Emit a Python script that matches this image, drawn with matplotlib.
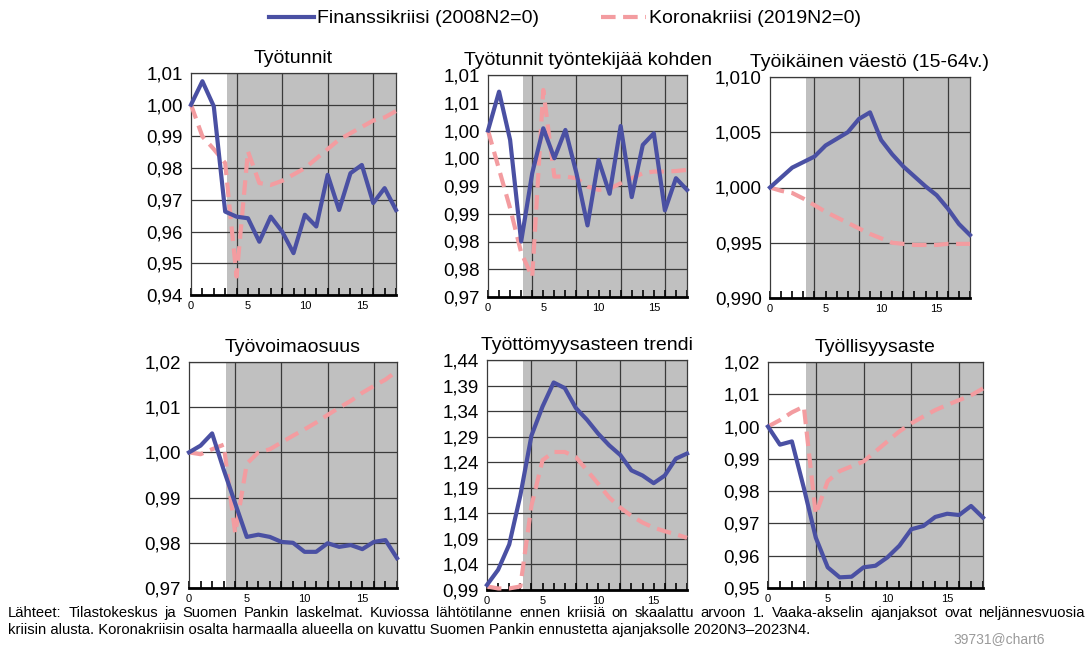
import numpy as np
import matplotlib
matplotlib.use("Agg")
import matplotlib.pyplot as plt
from decimal import Decimal, ROUND_HALF_UP

plt.rcParams['font.family'] = ['Liberation Sans', 'DejaVu Sans']

# data: neljännesvuodet kriisin alusta, 1 = lähtötilanne
x = np.arange(19)

titles = ["Työtunnit", "Työtunnit työntekijää kohden", "Työikäinen väestö (15-64v.)",
          "Työvoimaosuus", "Työttömyysasteen trendi", "Työllisyysaste"]

fin_tyotunnit = [1.000, 1.0074, 0.9995, 0.9663, 0.9647, 0.9642, 0.9568, 0.9647, 0.9600, 0.9532,
                 0.9653, 0.9616, 0.9779, 0.9668, 0.9784, 0.9810, 0.9690, 0.9737, 0.9668]
kor_tyotunnit = [1.000, 0.9900, 0.9860, 0.9816, 0.9458, 0.9853, 0.9753, 0.9747, 0.9760, 0.9780,
                 0.9800, 0.9830, 0.9860, 0.9890, 0.9910, 0.9930, 0.9950, 0.9960, 0.9980]

fin_per_tyontekija = [1.000, 1.0070, 0.9983, 0.9800, 0.9923, 1.0004, 0.9950, 1.0001, 0.9923, 0.9829,
                      0.9947, 0.9886, 1.0008, 0.9880, 0.9974, 0.9995, 0.9856, 0.9914, 0.9893]
kor_per_tyontekija = [1.000, 0.9930, 0.9860, 0.9780, 0.9736, 1.0073, 0.9917, 0.9917, 0.9914, 0.9899,
                      0.9893, 0.9895, 0.9905, 0.9914, 0.9923, 0.9926, 0.9926, 0.9927, 0.9929]

fin_vaesto = [1.000, 1.0009, 1.0018, 1.0023, 1.0028, 1.0038, 1.0044, 1.0050, 1.0062, 1.0068,
              1.0043, 1.0030, 1.0019, 1.0010, 1.0001, 0.9993, 0.9981, 0.9967, 0.9957]
kor_vaesto = [1.000, 0.9997, 0.9995, 0.9990, 0.9984, 0.9978, 0.9973, 0.9968, 0.9963, 0.9958,
              0.9954, 0.9950, 0.9949, 0.9948, 0.9948, 0.9948, 0.9949, 0.9949, 0.9949]

fin_tyovoima = [1.000, 1.0015, 1.0042, 0.9962, 0.9887, 0.9813, 0.9818, 0.9813, 0.9802, 0.9800,
                0.9780, 0.9780, 0.9799, 0.9791, 0.9795, 0.9786, 0.9802, 0.9806, 0.9766]
kor_tyovoima = [1.000, 0.9996, 1.0007, 1.0017, 0.9821, 0.9975, 1.0000, 1.0007, 1.0022, 1.0037,
                1.0051, 1.0066, 1.0083, 1.0099, 1.0114, 1.0132, 1.0147, 1.0161, 1.0180]

fin_tyottomyys = [1.000, 1.0295, 1.079, 1.175, 1.292, 1.349, 1.396, 1.385, 1.346, 1.323,
                  1.296, 1.273, 1.254, 1.224, 1.214, 1.199, 1.214, 1.247, 1.257]
kor_tyottomyys = [0.997, 0.993, 0.993, 0.997, 1.155, 1.244, 1.260, 1.260, 1.250, 1.224,
                  1.198, 1.171, 1.151, 1.135, 1.122, 1.112, 1.105, 1.099, 1.092]

fin_tyollisyys = [1.000, 0.9944, 0.9954, 0.9810, 0.9656, 0.9564, 0.9533, 0.9535, 0.9564, 0.9569,
                  0.9595, 0.9631, 0.9682, 0.9692, 0.9720, 0.9730, 0.9726, 0.9754, 0.9718]
kor_tyollisyys = [1.000, 1.0020, 1.0044, 1.0062, 0.9728, 0.9831, 0.9862, 0.9877, 0.9892, 0.9923,
                  0.9954, 0.9985, 1.0010, 1.0031, 1.0051, 1.0067, 1.0082, 1.0097, 1.0118]

fin_series = [fin_tyotunnit, fin_per_tyontekija, fin_vaesto, fin_tyovoima, fin_tyottomyys, fin_tyollisyys]
kor_series = [kor_tyotunnit, kor_per_tyontekija, kor_vaesto, kor_tyovoima, kor_tyottomyys, kor_tyollisyys]

# y-akselit: (min, max, väli, desimaalit)
y_axes = [(0.94, 1.01, 0.01, 2), (0.97, 1.01, 0.005, 2), (0.990, 1.010, 0.005, 3),
          (0.97, 1.02, 0.01, 2), (0.99, 1.44, 0.05, 2), (0.95, 1.02, 0.01, 2)]

# axes boxes in pixels (left, right, top, bottom)
boxes = [(191, 396, 73, 295), (488, 687, 75, 297), (770, 970, 77, 298),
         (189, 397, 362, 588), (487, 687, 360, 590), (768, 983, 362, 588)]

BLUE = "#4A50A3"
PINK = "#F39CA0"
W, H = 1091, 648


def fmt(v, dec):
    d = Decimal(str(round(v, 6))).quantize(Decimal(1).scaleb(-dec), rounding=ROUND_HALF_UP)
    return str(d).replace(".", ",")


fig = plt.figure(figsize=(W / 100, H / 100), dpi=100)

for i in range(6):
    l, r, t, b = boxes[i]
    ax = fig.add_axes([l / W, 1 - b / H, (r - l) / W, (b - t) / H])
    ymin, ymax, step, dec = y_axes[i]
    ax.set_xlim(0, 18)
    ax.set_ylim(ymin, ymax)
    ax.axvspan(3.2, 18, color="#c0c0c0", zorder=0, lw=0)
    yt = np.arange(ymin, ymax + step / 2, step)
    ax.set_yticks(yt)
    ax.set_yticklabels([fmt(v, dec) for v in yt], fontsize=13.5)
    ax.set_xticks([0, 5, 10, 15])
    ax.set_xticklabels(["0", "5", "10", "15"], fontsize=8)
    ax.set_xticks(x, minor=True)
    ax.tick_params(axis="y", length=0, pad=6)
    ax.tick_params(axis="x", which="both", direction="in", length=5, width=1.2, color="black", pad=4)
    for yy in yt:
        ax.axhline(yy, color="#3a3a3a", lw=0.9, zorder=1)
    for xx in [4, 8, 12, 16]:
        ax.axvline(xx, color="#3a3a3a", lw=0.9, zorder=1)
    for s in ["top", "right", "left"]:
        ax.spines[s].set_color("#3a3a3a")
        ax.spines[s].set_linewidth(0.9)
    ax.spines["bottom"].set_linewidth(2)
    ax.plot(x, kor_series[i], color=PINK, lw=3, dashes=(3.5, 1.8), zorder=3, clip_on=False)
    ax.plot(x, fin_series[i], color=BLUE, lw=3, solid_joinstyle="round", zorder=4, clip_on=False)
    ax.set_title(titles[i], fontsize=14, pad=7)

# legend
h1, = plt.plot([], [], color=BLUE, lw=3)
h2, = plt.plot([], [], color=PINK, lw=3, dashes=(3.5, 1.8))
fig.legend([h1, h2], ["Finanssikriisi (2008N2=0)", "Koronakriisi (2019N2=0)"],
           loc="upper center", bbox_to_anchor=(0.518, 1.012), ncol=2, frameon=False,
           fontsize=14, handlelength=2.3, handletextpad=0.15, columnspacing=3.2)

# footer, first line justified
line1 = ("Lähteet: Tilastokeskus ja Suomen Pankin laskelmat. Kuviossa lähtötilanne ennen kriisiä on "
         "skaalattu arvoon 1. Vaaka-akselin ajanjaksot ovat neljännesvuosia")
line2 = ("kriisin alusta. Koronakriisin osalta harmaalla alueella on kuvattu Suomen Pankin ennustetta "
         "ajanjaksolle 2020N3–2023N4.")
foot_font = dict(fontsize=10.6)

fig.canvas.draw()
renderer = fig.canvas.get_renderer()
words = line1.split(" ")
arts = [fig.text(0, 1 - 613 / H, w_, va="center", **foot_font) for w_ in words]
widths = [a.get_window_extent(renderer).width for a in arts]
x0, x1 = 8, 1085
gap = (x1 - x0 - sum(widths)) / (len(words) - 1)
pos = x0
for a, wd in zip(arts, widths):
    a.set_x(pos / W)
    pos += wd + gap
fig.text(x0 / W, 1 - 630 / H, line2, va="center", **foot_font)
fig.text(1045 / W, 1 - 639 / H, "39731@chart6", ha="right", va="center", fontsize=10, color="#9a9a9a")

fig.savefig("out.png", dpi=100)
